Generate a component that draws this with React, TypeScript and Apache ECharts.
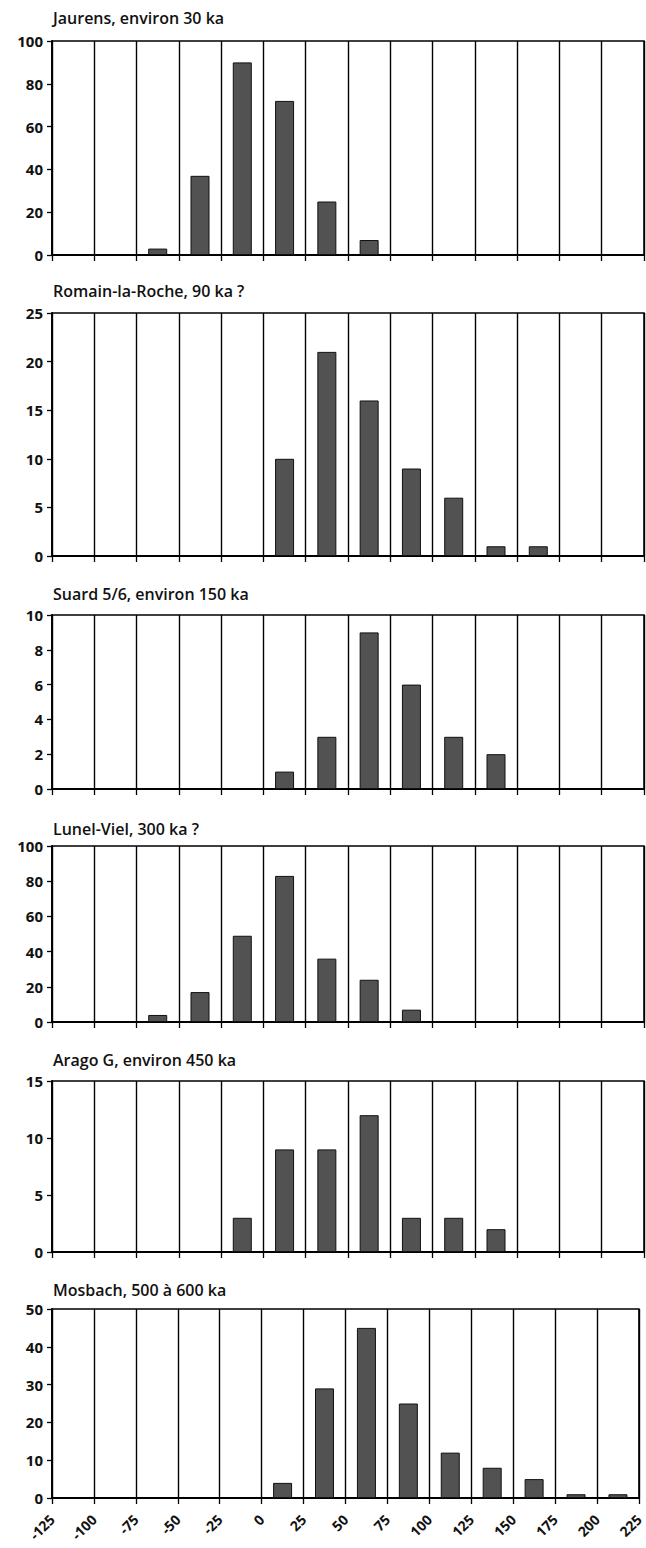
import React, { useEffect, useRef } from "react";
import * as echarts from "echarts";

// ---- data ----
const panelTitles = [
  "Jaurens, environ 30 ka",
  "Romain-la-Roche, 90 ka ?",
  "Suard 5/6, environ 150 ka",
  "Lunel-Viel, 300 ka ?",
  "Arago G, environ 450 ka",
  "Mosbach, 500 à 600 ka",
];
const binCenters = [-112.5, -87.5, -62.5, -37.5, -12.5, 12.5, 37.5, 62.5, 87.5, 112.5, 137.5, 162.5, 187.5, 212.5];
const xTickLabels = ["-125", "-100", "-75", "-50", "-25", "0", "25", "50", "75", "100", "125", "150", "175", "200", "225"];
const jaurens = [0, 0, 3, 37, 90, 72, 25, 7, 0, 0, 0, 0, 0, 0];
const romain = [0, 0, 0, 0, 0, 10, 21, 16, 9, 6, 1, 1, 0, 0];
const suard = [0, 0, 0, 0, 0, 1, 3, 9, 6, 3, 2, 0, 0, 0];
const lunel = [0, 0, 4, 17, 49, 83, 36, 24, 7, 0, 0, 0, 0, 0];
const arago = [0, 0, 0, 0, 3, 9, 9, 12, 3, 3, 2, 0, 0, 0];
const mosbach = [0, 0, 0, 0, 0, 4, 29, 45, 25, 12, 8, 5, 1, 1];
const yMax = [100, 25, 10, 100, 15, 50];
const yInterval = [20, 5, 2, 20, 5, 10];

const allSeries = [jaurens, romain, suard, lunel, arago, mosbach];

// ---- layout ----
const gridTops = [41, 313, 615, 846, 1081, 1309];
const gridHeights = [214, 243, 174, 176, 171, 189];
const titleTops = [10, 283, 586, 821, 1052, 1282];
const GRID_LEFT = 52;
const GRID_RIGHT = 2;

export default function App() {
  const ref = useRef<HTMLDivElement>(null);
  useEffect(() => {
    document.body.style.margin = "0";
    if (!ref.current) return;
    const chart = echarts.init(ref.current, undefined, { renderer: "svg" });
    const font = "'Open Sans', 'DejaVu Sans', sans-serif";
    const grids: any[] = [];
    const xAxes: any[] = [];
    const yAxes: any[] = [];
    const series: any[] = [];
    const titles: any[] = [];
    allSeries.forEach((vals, i) => {
      grids.push({
        left: GRID_LEFT,
        right: GRID_RIGHT,
        top: gridTops[i],
        height: gridHeights[i],
        show: true,
        borderColor: "#000",
        borderWidth: 1.5,
        backgroundColor: "transparent",
      });
      titles.push({
        text: panelTitles[i],
        left: 53,
        top: titleTops[i],
        padding: 0,
        textStyle: { fontFamily: font, fontSize: 16, fontWeight: 600, color: "#111" },
      });
      const last = i === allSeries.length - 1;
      xAxes.push({
        type: "value",
        gridIndex: i,
        min: -125,
        max: 225,
        interval: 25,
        axisLine: { show: true, onZero: false, lineStyle: { color: "#000", width: 1.8 } },
        axisTick: { show: true, inside: false, length: 6, lineStyle: { color: "#000", width: 1.3 } },
        splitLine: { show: true, lineStyle: { color: "#000", width: 1.4 } },
        axisLabel: {
          show: last,
          rotate: 45,
          margin: 19,
          fontFamily: font,
          fontSize: 14,
          fontWeight: "bold",
          color: "#111",
          showMinLabel: true,
          showMaxLabel: true,
          formatter: (v: number) => xTickLabels[Math.round((v + 125) / 25)] ?? "",
        },
      });
      yAxes.push({
        type: "value",
        gridIndex: i,
        min: 0,
        max: yMax[i],
        interval: yInterval[i],
        axisLine: { show: true, onZero: false, lineStyle: { color: "#000", width: 1.8 } },
        axisTick: { show: true, inside: false, length: 5, lineStyle: { color: "#000", width: 1.3 } },
        splitLine: { show: false },
        axisLabel: {
          margin: 9,
          fontFamily: font,
          fontSize: 15,
          fontWeight: "bold",
          color: "#111",
        },
      });
      series.push({
        type: "bar",
        xAxisIndex: i,
        yAxisIndex: i,
        barWidth: 19,
        data: binCenters.map((c, k) => (vals[k] > 0 ? [c, vals[k]] : [c, null])),
        itemStyle: { color: "#525252", borderColor: "#111", borderWidth: 1 },
        silent: true,
      });
    });
    chart.setOption({
      animation: false,
      backgroundColor: "#fff",
      title: titles,
      grid: grids,
      xAxis: xAxes,
      yAxis: yAxes,
      series,
    });
    return () => chart.dispose();
  }, []);
  return <div ref={ref} style={{ width: 646, height: 1548 }} />;
}
